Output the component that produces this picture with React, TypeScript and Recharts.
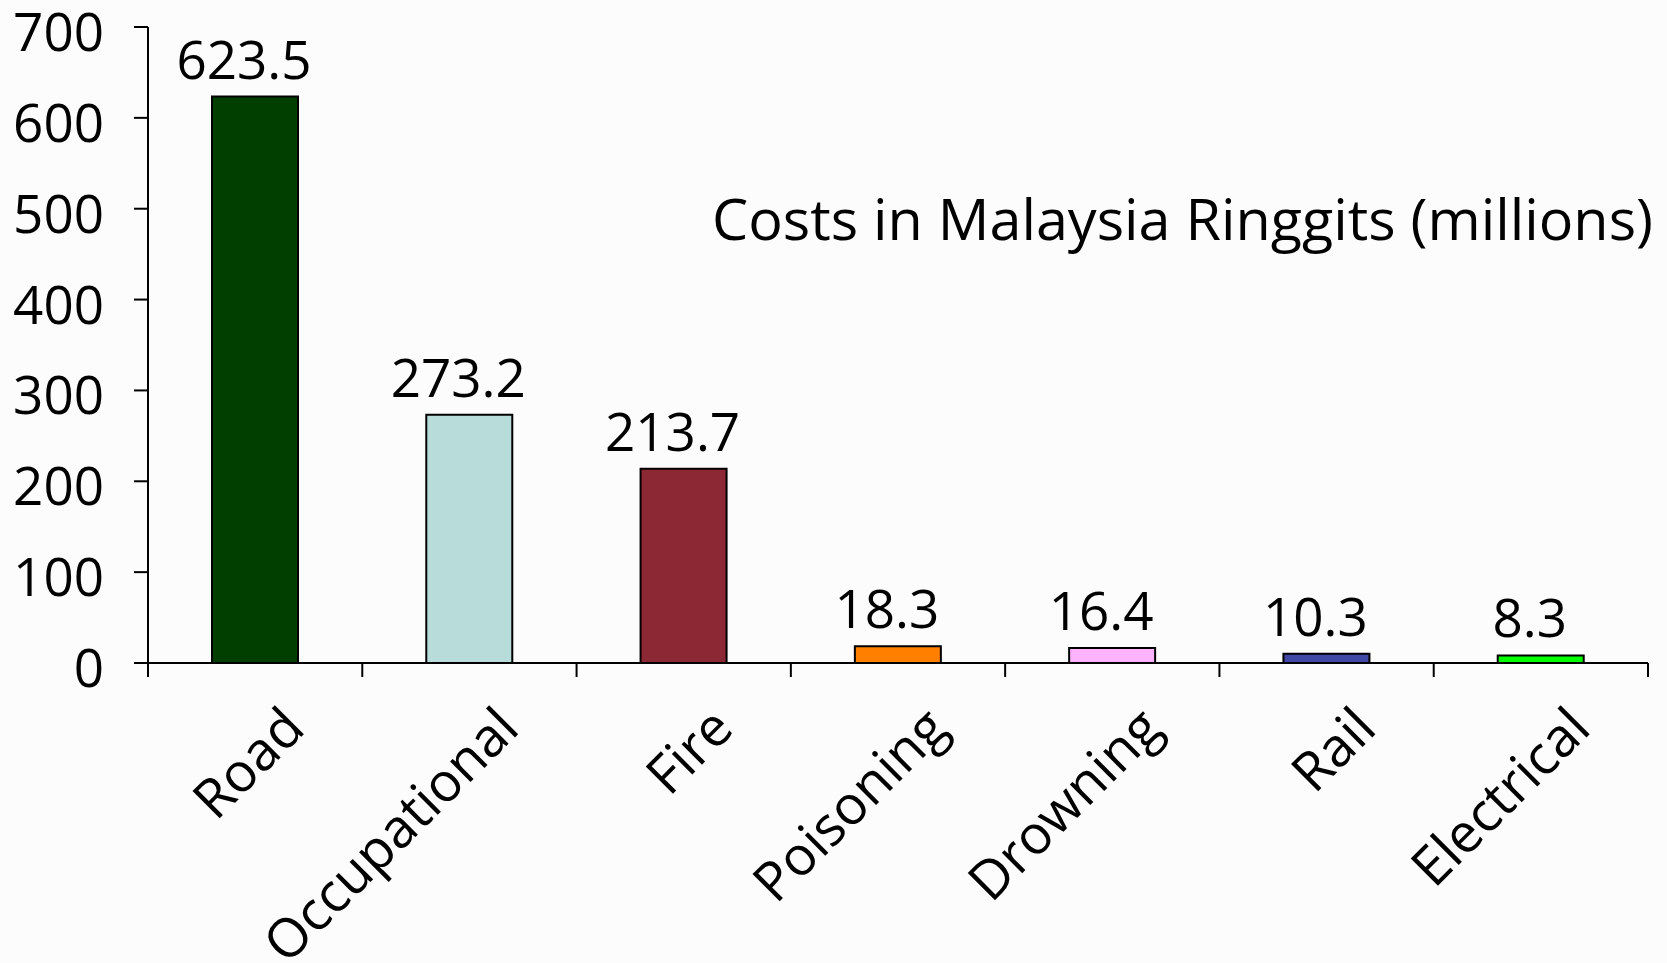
import { BarChart, Bar, XAxis, YAxis, Cell, LabelList } from 'recharts'

const categories = ['Road', 'Occupational', 'Fire', 'Poisoning', 'Drowning', 'Rail', 'Electrical']
const costs = [623.5, 273.2, 213.7, 18.3, 16.4, 10.3, 8.3]
const barColors = ['#003f00', '#b7dcd9', '#8b2833', '#ff7f00', '#ffb2ff', '#4047a6', '#00ff00']
const yTicks = [0, 100, 200, 300, 400, 500, 600, 700]
const title = 'Costs in Malaysia Ringgits (millions)'

// each category sits in the middle of a unit slot; tick marks go on the slot borders
const data = categories.map((name, i) => ({ name, cost: costs[i], pos: i + 0.5 }))
const xTicks = [...categories.flatMap((_, i) => [i, i + 0.5]), categories.length]

const FONT = '"Open Sans", "Noto Sans", sans-serif'
const W = 1667
const H = 963

function YTick({ x, y, payload }: any) {
  return (
    <text x={x} y={y + 24} textAnchor="end" fontSize={53} fontFamily={FONT} fill="#000">
      {payload.value}
    </text>
  )
}

function XTick({ x, y, payload }: any) {
  const v = payload.value
  if (Number.isInteger(v)) {
    // border tick mark, pointing down
    return <line x1={x} y1={y} x2={x} y2={y + 14} stroke="#000" strokeWidth={2} />
  }
  // rotated category label, anchored at the end of its baseline
  return (
    <g transform={`translate(${x + 52},${y + 68})`}>
      <text textAnchor="end" transform="rotate(-45)" fontSize={54} fontFamily={FONT} fill="#000">
        {categories[v - 0.5]}
      </text>
    </g>
  )
}

function ValueLabel({ x, y, width, value }: any) {
  return (
    <text x={x + width / 2 - 11} y={y - 18} textAnchor="middle" fontSize={53} fontFamily={FONT} fill="#000">
      {value}
    </text>
  )
}

export default function App() {
  return (
    <div style={{ position: 'absolute', left: 0, top: 0, width: W, height: H, background: '#fcfcfc' }}>
      <BarChart width={W} height={H} data={data} margin={{ top: 27, right: 19, left: 0, bottom: 0 }}>
        <XAxis
          dataKey="pos"
          type="number"
          domain={[0, categories.length]}
          ticks={xTicks}
          allowDataOverflow
          interval={0}
          height={300}
          tickSize={0}
          tickMargin={0}
          tickLine={false}
          axisLine={{ stroke: '#000', strokeWidth: 2 }}
          tick={<XTick />}
        />
        <YAxis
          domain={[0, 700]}
          ticks={yTicks}
          width={148}
          tickSize={14}
          tickMargin={30}
          axisLine={{ stroke: '#000', strokeWidth: 2 }}
          tickLine={{ stroke: '#000', strokeWidth: 2 }}
          tick={<YTick />}
        />
        <Bar dataKey="cost" barSize={86} stroke="#000" strokeWidth={2} isAnimationActive={false}>
          {data.map((d, i) => (
            <Cell key={d.name} fill={barColors[i]} />
          ))}
          <LabelList dataKey="cost" content={<ValueLabel />} />
        </Bar>
      </BarChart>
      <svg width={W} height={H} style={{ position: 'absolute', left: 0, top: 0, pointerEvents: 'none' }}>
        <text x={1653} y={240} textAnchor="end" fontSize={57.5} fontFamily={FONT} fill="#000">
          {title}
        </text>
      </svg>
    </div>
  )
}
